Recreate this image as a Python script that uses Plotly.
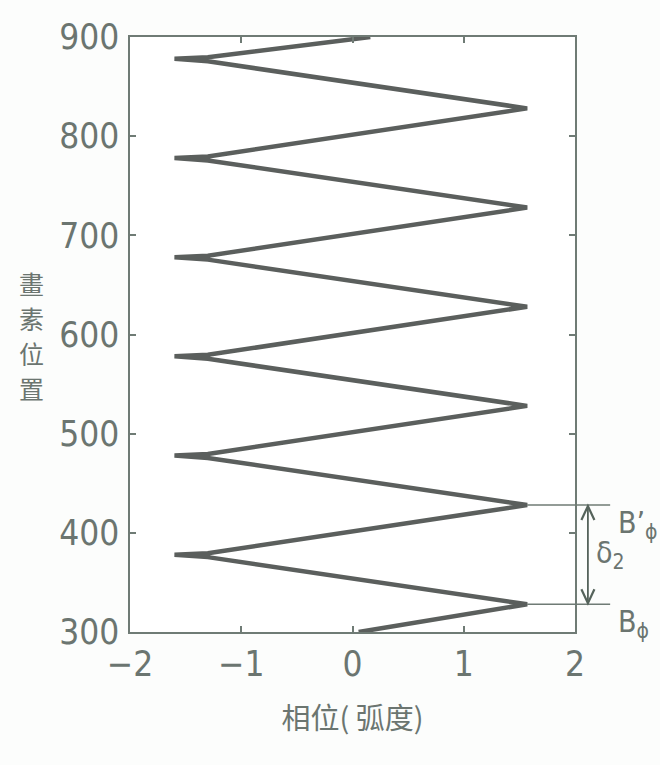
import plotly.graph_objects as go

# Data: zigzag phase (radians) vs pixel position
pixel_pos = [300, 328,
             375.5, 377, 378, 379.5, 428,
             475.5, 477, 478, 479.5, 528,
             575.5, 577, 578, 579.5, 628,
             675.5, 677, 678, 679.5, 728,
             775.5, 777, 778, 779.5, 828,
             875.5, 877, 878, 879.5, 900]
phase = [0.055, 1.57,
         -1.30, -1.60, -1.60, -1.30, 1.57,
         -1.30, -1.60, -1.60, -1.30, 1.57,
         -1.30, -1.60, -1.60, -1.30, 1.57,
         -1.30, -1.60, -1.60, -1.30, 1.57,
         -1.30, -1.60, -1.60, -1.30, 1.57,
         -1.30, -1.60, -1.60, -1.30, 0.16]

x_ticks = [-2, -1, 0, 1, 2]
y_ticks = [300, 400, 500, 600, 700, 800, 900]
x_range = [-2, 2]
y_range = [300, 900]

b_phi = 328
b_phi_prime = 428
peak_phase = 1.57

y_title_chars = ["畫", "素", "位", "置"]
y_title_pos = [0.5866, 0.5277, 0.4689, 0.4101]

TXT = "#6b7570"
AX = "#6f7b75"
ARW = "#55635b"
NARROW = "Liberation Sans Narrow, DejaVu Sans Condensed, Arial Narrow, sans-serif"
CJK = "Noto Sans CJK TC, Noto Sans CJK SC, sans-serif"

fig = go.Figure()
fig.add_trace(go.Scatter(x=phase, y=pixel_pos, mode="lines",
                         line=dict(color="#5b5f5d", width=4.5),
                         hoverinfo="skip", showlegend=False))

def to_paper(v):
    return (v - x_range[0]) / (x_range[1] - x_range[0])

x_line_end = 1.079
x_arrow = 1.029
for yv in [b_phi, b_phi_prime]:
    fig.add_shape(type="line", xref="paper", yref="y",
                  x0=to_paper(peak_phase), x1=x_line_end, y0=yv, y1=yv,
                  line=dict(color=AX, width=1.5))

# double arrow: shaft + open chevron heads
fig.add_shape(type="line", xref="paper", yref="y", x0=x_arrow, x1=x_arrow,
              y0=b_phi + 1, y1=b_phi_prime - 1, line=dict(color=ARW, width=1.8))
fig.add_shape(type="path", xref="paper", yref="y", xsizemode="pixel", ysizemode="pixel",
              xanchor=x_arrow, yanchor=b_phi_prime, path="M-6.5,-15 L0,-1 L6.5,-15",
              line=dict(color=ARW, width=2.2))
fig.add_shape(type="path", xref="paper", yref="y", xsizemode="pixel", ysizemode="pixel",
              xanchor=x_arrow, yanchor=b_phi, path="M-6.5,15 L0,1 L6.5,15",
              line=dict(color=ARW, width=2.2))

fig.add_annotation(xref="paper", yref="y", x=1.093, y=b_phi_prime + 2,
                   text="B’<sub>ϕ</sub>", showarrow=False, xanchor="left", yanchor="top",
                   font=dict(family=NARROW, size=30, color=TXT))
fig.add_annotation(xref="paper", yref="y", x=1.093, y=b_phi + 2,
                   text="B<sub>ϕ</sub>", showarrow=False, xanchor="left", yanchor="top",
                   font=dict(family=NARROW, size=30, color=TXT))
fig.add_annotation(xref="paper", yref="y", x=1.042, y=(b_phi + b_phi_prime) / 2,
                   text="δ<sub>2</sub>", showarrow=False, xanchor="left", yanchor="middle",
                   font=dict(family=NARROW, size=30, color=TXT))

# y-axis title (vertical stacked characters)
for ch, yp in zip(y_title_chars, y_title_pos):
    fig.add_annotation(xref="paper", yref="paper", x=-0.222, y=yp,
                       text=ch, showarrow=False, xanchor="center", yanchor="middle",
                       font=dict(family=CJK, size=25, color=TXT))

axis_common = dict(showline=True, linecolor=AX, linewidth=1.5, mirror="ticks",
                   ticks="inside", ticklen=6, tickwidth=1.5, tickcolor=AX,
                   showgrid=False, zeroline=False,
                   tickfont=dict(family=NARROW, size=35, color=TXT))

fig.update_xaxes(range=x_range, tickvals=x_ticks, **axis_common,
                 title=dict(text="相位( 弧度)", font=dict(family=CJK, size=29, color=TXT),
                            standoff=26))
fig.update_yaxes(range=y_range, tickvals=y_ticks, ticklabelstandoff=2, **axis_common)

fig.update_layout(width=660, height=765,
                  margin=dict(l=130, r=85, t=37, b=133),
                  paper_bgcolor="#fcfdfc", plot_bgcolor="#ffffff")

fig.write_html("out.html")
